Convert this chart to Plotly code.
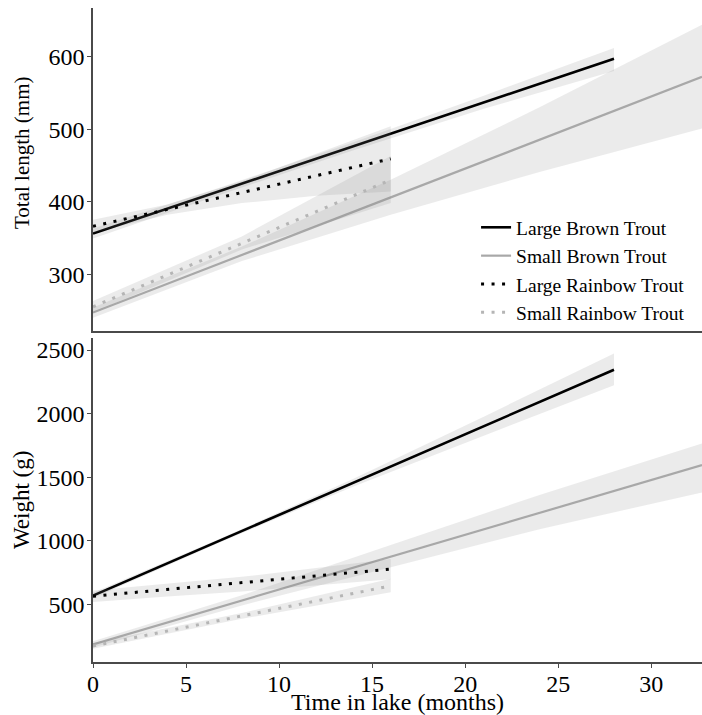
import plotly.graph_objects as go

# ---------------- data ----------------
x_range = [0, 32.73]
x_ticks = [0, 5, 10, 15, 20, 25, 30]
len_ticks = [300, 400, 500, 600]
wt_ticks = [500, 1000, 1500, 2000, 2500]

series_names = ["Large Brown Trout", "Small Brown Trout", "Large Rainbow Trout", "Small Rainbow Trout"]

# fitted line end points (months, value)
lb_x = [0, 28]
sb_x = [0, 32.73]
lr_x = [0, 16]
sr_x = [0, 16]

lb_len = [356, 597]
sb_len = [247, 572]
lr_len = [366, 459]
sr_len = [255, 430]

lb_wt = [568, 2345]
sb_wt = [184, 1595]
lr_wt = [563, 776]
sr_wt = [171, 644]

# confidence bands (months, lower, upper)
lb_band_x = [0, 7, 14, 21, 28]
lb_len_lo = [349, 411, 471, 528, 580]
lb_len_hi = [363, 421, 482, 546, 612]
lb_wt_lo = [546, 998, 1427, 1826, 2224]
lb_wt_hi = [590, 1026, 1487, 1976, 2474]

sb_band_x = [0, 8, 16, 24, 32.73]
sb_len_lo = [240, 318, 382, 441, 501]
sb_len_hi = [254, 338, 430, 530, 644]
sb_wt_lo = [160, 490, 790, 1090, 1380]
sb_wt_hi = [208, 570, 965, 1360, 1765]

lr_band_x = [0, 4, 8, 12, 16]
lr_len_lo = [357, 382, 398, 408, 414]
lr_len_hi = [375, 396, 428, 466, 504]
lr_wt_lo = [518, 560, 600, 650, 696]
lr_wt_hi = [608, 660, 715, 785, 856]

sr_band_x = [0, 8, 16]
sr_len_lo = [247, 334, 398]
sr_len_hi = [263, 352, 463]
sr_wt_lo = [150, 385, 594]
sr_wt_hi = [195, 430, 700]

# ---------------- styling ----------------
FONT = "Liberation Serif"
BAND = "rgba(128,128,128,0.16)"
styles = {
    "Large Brown Trout": dict(color="#000000", width=2.6, dash="solid"),
    "Small Brown Trout": dict(color="#a8a8a8", width=2.2, dash="solid"),
    "Large Rainbow Trout": dict(color="#000000", width=3, dash="3px,7.5px"),
    "Small Rainbow Trout": dict(color="#b5b5b5", width=3, dash="3px,7.5px"),
}

fig = go.Figure()


def add_group(name, lx, ly, bx, blo, bhi, xa, ya, showlegend):
    fig.add_trace(go.Scatter(
        x=list(bx) + list(bx)[::-1], y=list(bhi) + list(blo)[::-1],
        fill="toself", fillcolor=BAND, line=dict(width=0), mode="lines",
        hoverinfo="skip", showlegend=False, xaxis=xa, yaxis=ya))
    fig.add_trace(go.Scatter(
        x=lx, y=ly, mode="lines", name=name, line=styles[name],
        showlegend=showlegend, legendgroup=name, xaxis=xa, yaxis=ya))


top = [
    (lb_x, lb_len, lb_band_x, lb_len_lo, lb_len_hi),
    (sb_x, sb_len, sb_band_x, sb_len_lo, sb_len_hi),
    (lr_x, lr_len, lr_band_x, lr_len_lo, lr_len_hi),
    (sr_x, sr_len, sr_band_x, sr_len_lo, sr_len_hi),
]
bottom = [
    (lb_x, lb_wt, lb_band_x, lb_wt_lo, lb_wt_hi),
    (sb_x, sb_wt, sb_band_x, sb_wt_lo, sb_wt_hi),
    (lr_x, lr_wt, lr_band_x, lr_wt_lo, lr_wt_hi),
    (sr_x, sr_wt, sr_band_x, sr_wt_lo, sr_wt_hi),
]
for name, d in zip(series_names, top):
    add_group(name, *d, "x", "y", True)
for name, d in zip(series_names, bottom):
    add_group(name, *d, "x2", "y2", False)

line_common = dict(showgrid=False, zeroline=False, showline=True, linecolor="#4a4a4a",
                   linewidth=1.5, tickcolor="#4a4a4a", ticklen=4, tickwidth=1.2)
tickfont = dict(family=FONT, size=24, color="#000")

fig.update_layout(
    width=702, height=715,
    margin=dict(l=93, r=0, t=8, b=53),
    plot_bgcolor="white", paper_bgcolor="white",
    font=dict(family=FONT, color="#000"),
    xaxis=dict(domain=[0, 1], range=x_range, anchor="y", showticklabels=False, ticks="",
               **line_common),
    yaxis=dict(domain=[0.506, 1], range=[221.5, 667], anchor="x", tickvals=len_ticks,
               ticks="outside", tickfont=tickfont, ticklabelstandoff=-2, **line_common),
    xaxis2=dict(domain=[0, 1], range=x_range, anchor="y2", tickvals=x_ticks,
                ticks="outside", tickfont=tickfont, ticklabelstandoff=-5, **line_common),
    yaxis2=dict(domain=[0, 0.4954], range=[45, 2595], anchor="x2", tickvals=wt_ticks,
                ticks="outside", tickfont=tickfont, ticklabelstandoff=-2, **line_common),
    legend=dict(x=0.629, y=0.694, xanchor="left", yanchor="top", bgcolor="rgba(0,0,0,0)",
                font=dict(family=FONT, size=19.5, color="#000"), tracegroupgap=0,
                itemwidth=30),
    showlegend=True,
)

fig.add_annotation(text="Total length (mm)", textangle=-90, xref="paper", yref="paper",
                   x=(22 - 93) / 609, y=(662 - 153) / 654, showarrow=False,
                   xanchor="center", yanchor="middle", font=dict(family=FONT, size=21))
fig.add_annotation(text="Weight (g)", textangle=-90, xref="paper", yref="paper",
                   x=(22 - 93) / 609, y=(662 - 500) / 654, showarrow=False,
                   xanchor="center", yanchor="middle", font=dict(family=FONT, size=23))
fig.add_annotation(text="Time in lake (months)", xref="paper", yref="paper",
                   x=(397 - 93) / 609, y=(662 - 702) / 654, showarrow=False,
                   xanchor="center", yanchor="middle", font=dict(family=FONT, size=24))

fig.write_html("out.html", config={"displayModeBar": False},
               post_script="document.body.style.margin='0';document.body.style.overflow='hidden';")
